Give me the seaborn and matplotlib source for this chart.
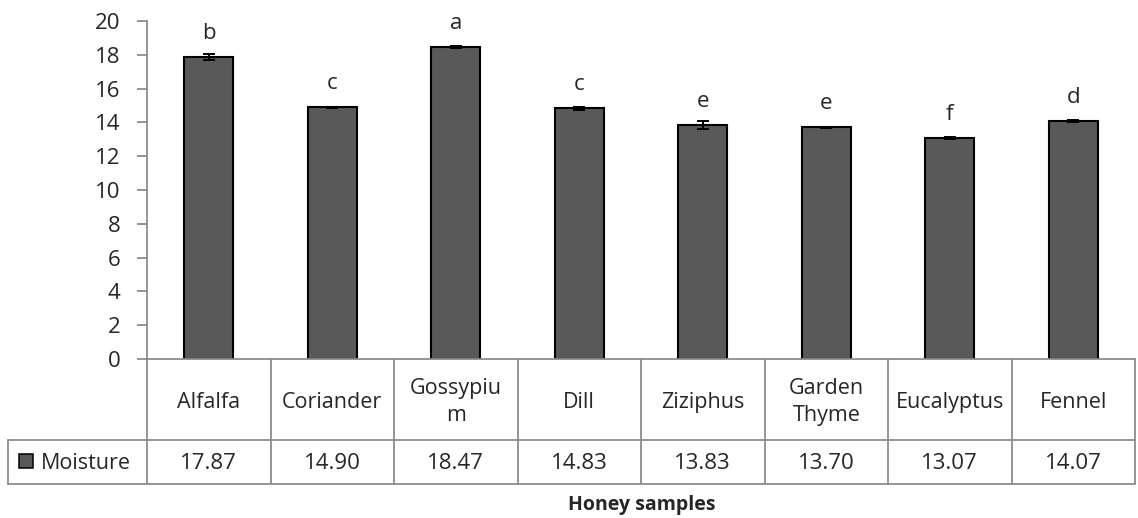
import seaborn as sns
import matplotlib.pyplot as plt
import matplotlib.transforms as mtransforms
import pandas as pd

samples = ['Alfalfa', 'Coriander', 'Gossypium', 'Dill', 'Ziziphus', 'Garden Thyme', 'Eucalyptus', 'Fennel']
cell_labels = ['Alfalfa', 'Coriander', 'Gossypiu\nm', 'Dill', 'Ziziphus', 'Garden\nThyme', 'Eucalyptus', 'Fennel']
moisture = [17.87, 14.90, 18.47, 14.83, 13.83, 13.70, 13.07, 14.07]
errors = [0.17, 0.02, 0.05, 0.08, 0.25, 0.02, 0.05, 0.05]
letters = ['b', 'c', 'a', 'c', 'e', 'e', 'f', 'd']
yticks = [0, 2, 4, 6, 8, 10, 12, 14, 16, 18, 20]

df = pd.DataFrame({'sample': samples, 'moisture': moisture})

sns.set_style('white')
plt.rcParams['font.family'] = ['Open Sans', 'DejaVu Sans']

fig = plt.figure(figsize=(11.38, 5.18), dpi=100)
W, H = 1138, 518
ax = fig.add_axes([147 / W, (518 - 359) / H, (1135 - 147) / W, (359 - 21) / H])

bar_color = '#595959'
sns.barplot(data=df, x='sample', y='moisture', color=bar_color, edgecolor='black',
            linewidth=1.5, width=0.4, ax=ax, errorbar=None)
ax.errorbar(range(len(samples)), moisture, yerr=errors, fmt='none', ecolor='black',
            elinewidth=1.4, capsize=4, capthick=1.4)

for i, (v, lab) in enumerate(zip(moisture, letters)):
    ax.text(i, v + 1.4, lab, ha='center', va='center', fontsize=16)

ax.set_xlim(-0.5, len(samples) - 0.5)
ax.set_ylim(0, 20)
ax.set_yticks(yticks)
ax.set_yticklabels([str(t) for t in yticks], fontsize=16)
ax.set_xticks([])
ax.set_xlabel('')
ax.set_ylabel('')
grey = '#8c8c8c'
for s in ['top', 'right']:
    ax.spines[s].set_visible(False)
ax.spines['left'].set_color(grey)
ax.spines['bottom'].set_color(grey)
ax.spines['left'].set_linewidth(1.3)
ax.spines['bottom'].set_linewidth(1.3)
ax.tick_params(axis='y', direction='out', length=7, width=1.3, color=grey, pad=12, left=True)

# data table under the plot
tr = mtransforms.blended_transform_factory(ax.transData, ax.transAxes)
ppx = (359 - 21)
r1 = -(440 - 359) / ppx
r2 = -(484 - 359) / ppx
n = len(samples)
x0 = -0.5
xleg = -0.5 - (147 - 8) / ((1135 - 147) / n)
lw = 1.3
for k in range(n + 1):
    ax.plot([x0 + k, x0 + k], [0, r2], color=grey, lw=lw, transform=tr, clip_on=False)
ax.plot([x0, x0 + n], [r1, r1], color=grey, lw=lw, transform=tr, clip_on=False)
ax.plot([xleg, x0], [r1, r1], color=grey, lw=lw, transform=tr, clip_on=False)
ax.plot([xleg, x0 + n], [r2, r2], color=grey, lw=lw, transform=tr, clip_on=False)
ax.plot([xleg, xleg], [r1, r2], color=grey, lw=lw, transform=tr, clip_on=False)

for i, (lab, v) in enumerate(zip(cell_labels, moisture)):
    ax.text(i, r1 / 2 - 0.008, lab, ha='center', va='center', fontsize=15.5, transform=tr,
            linespacing=1.35)
    ax.text(i, (r1 + r2) / 2 - 0.005, f'{v:.2f}', ha='center', va='center', fontsize=16,
            transform=tr)

ax.add_patch(plt.Rectangle((xleg + 0.09, (r1 + r2) / 2 - 0.017), 0.11, 0.042,
                           facecolor=bar_color, edgecolor='black', lw=1.1, transform=tr,
                           clip_on=False))
ax.text(xleg + 0.27, (r1 + r2) / 2 - 0.005, 'Moisture', ha='left', va='center', fontsize=15.5,
        transform=tr)

fig.text(642 / W, 1 - 505 / H, 'Honey samples', ha='center', va='center',
         fontsize=14, fontweight='bold')

fig.savefig('out.png', dpi=100)
